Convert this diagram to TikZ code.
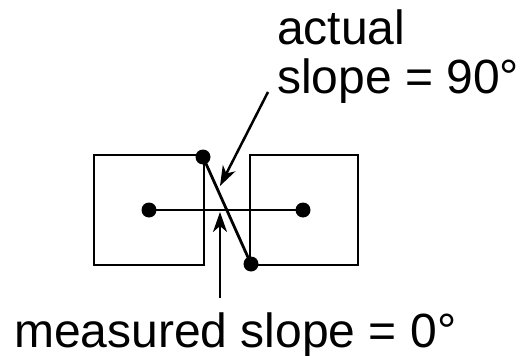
\documentclass[tikz,border=0pt]{standalone}
\usepackage{fontspec}
\setmainfont{Liberation Sans}
\usetikzlibrary{arrows.meta}
\begin{document}
\begin{tikzpicture}[x=1pt,y=-1pt,
  boxline/.style={line width=2.3pt},
  dotpt/.style={circle,fill=black,inner sep=0pt,minimum size=15pt},
  pointer/.style={line width=2.5pt,-{Stealth[length=20pt,width=14pt,inset=6pt]}},
  lbl/.style={inner sep=0pt,anchor=base west,font=\fontsize{48}{48}\selectfont}]
\useasboundingbox (0,0) rectangle (520,356);
\draw[boxline] (94,155) rectangle (204,265);
\draw[boxline] (250,155) rectangle (358,265);
\node[dotpt] (l) at (149,210) {};
\node[dotpt] (r) at (303,210) {};
\node[dotpt] (t) at (203,157) {};
\node[dotpt] (b) at (251,264) {};
\draw[line width=2.3pt] (l.center) -- (r.center);
\draw[line width=2.8pt] (t.center) -- (b.center);
\node[lbl] (a1) at (277,45) {actual};
\node[lbl] (a2) at (277,93) {slope = 90°};
\node[lbl] (m) at (14,347) {measured slope = 0°};
\coordinate (s1) at (268,92);
\coordinate (e1) at (220,186);
\coordinate (s2) at (220,298);
\coordinate (e2) at (220,212);
\draw[pointer] (s1) -- (e1);
\draw[pointer] (s2) -- (e2);
\end{tikzpicture}
\end{document}
